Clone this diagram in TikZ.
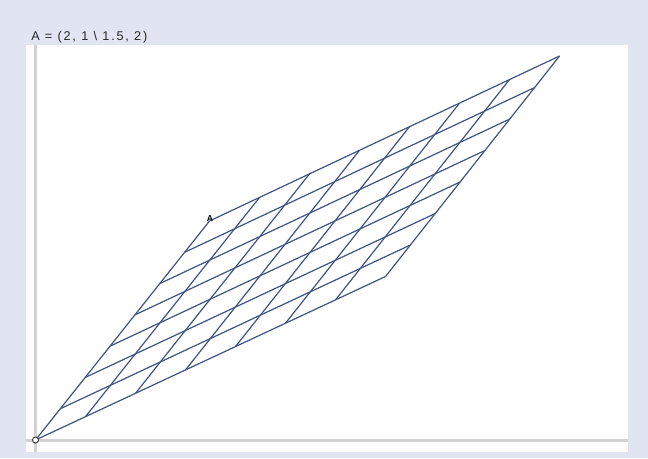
\documentclass[tikz,border=0pt]{standalone}
\usepackage{fontspec}
\setmainfont{Liberation Sans}
\newfontfamily\captionfont[LetterSpace=14]{Liberation Sans}
\usepackage{xcolor}
\usetikzlibrary{calc}

\definecolor{panelbg}{RGB}{225,229,241}
\definecolor{gridblue}{RGB}{62,84,132}
\definecolor{axisgray}{RGB}{210,210,210}

\begin{document}
\begin{tikzpicture}[x=0.75pt, y=-0.75pt,
    gridline/.style={draw=gridblue, line width=0.9pt},
    axis/.style={draw=axisgray, line width=2pt},
    caption/.style={anchor=base west, inner sep=0pt, font=\captionfont\fontsize{9.5}{11}\selectfont, text=black!85},
    origin/.style={circle, draw=black!80, fill=white, line width=0.7pt, inner sep=0pt, minimum size=4.5pt},
    ptlabel/.style={inner sep=0pt, font=\fontsize{6.5}{6.5}\bfseries\selectfont}]

    % frame
    \fill [panelbg] (0,0) rectangle (648,458);
    \fill [white] (26,45) rectangle (628,452);
    \useasboundingbox (0,0) rectangle (648,458);

    \node [caption] (title) at (31,40.5) {A = (2, 1 \textbackslash{} 1.5, 2)};

    % axes
    \draw [axis] (26,440.5) -- (628,440.5);
    \draw [axis] (35.5,45) -- (35.5,452);

    % corners of the image of the unit grid
    \coordinate (O) at (35.5,440);
    \coordinate (P) at (385.5,276.5);
    \coordinate (Q) at (209.5,221);
    \coordinate (R) at (559.5,56);

    \foreach \i in {0,...,7} {
        \draw [gridline] ($(O)!\i/7!(P)$) -- ($(Q)!\i/7!(R)$);
        \draw [gridline] ($(O)!\i/7!(Q)$) -- ($(P)!\i/7!(R)$);
    }

    \node [origin] (o) at (O) {};
    \node [ptlabel] (a) at (210,219) {A};
\end{tikzpicture}
\end{document}
